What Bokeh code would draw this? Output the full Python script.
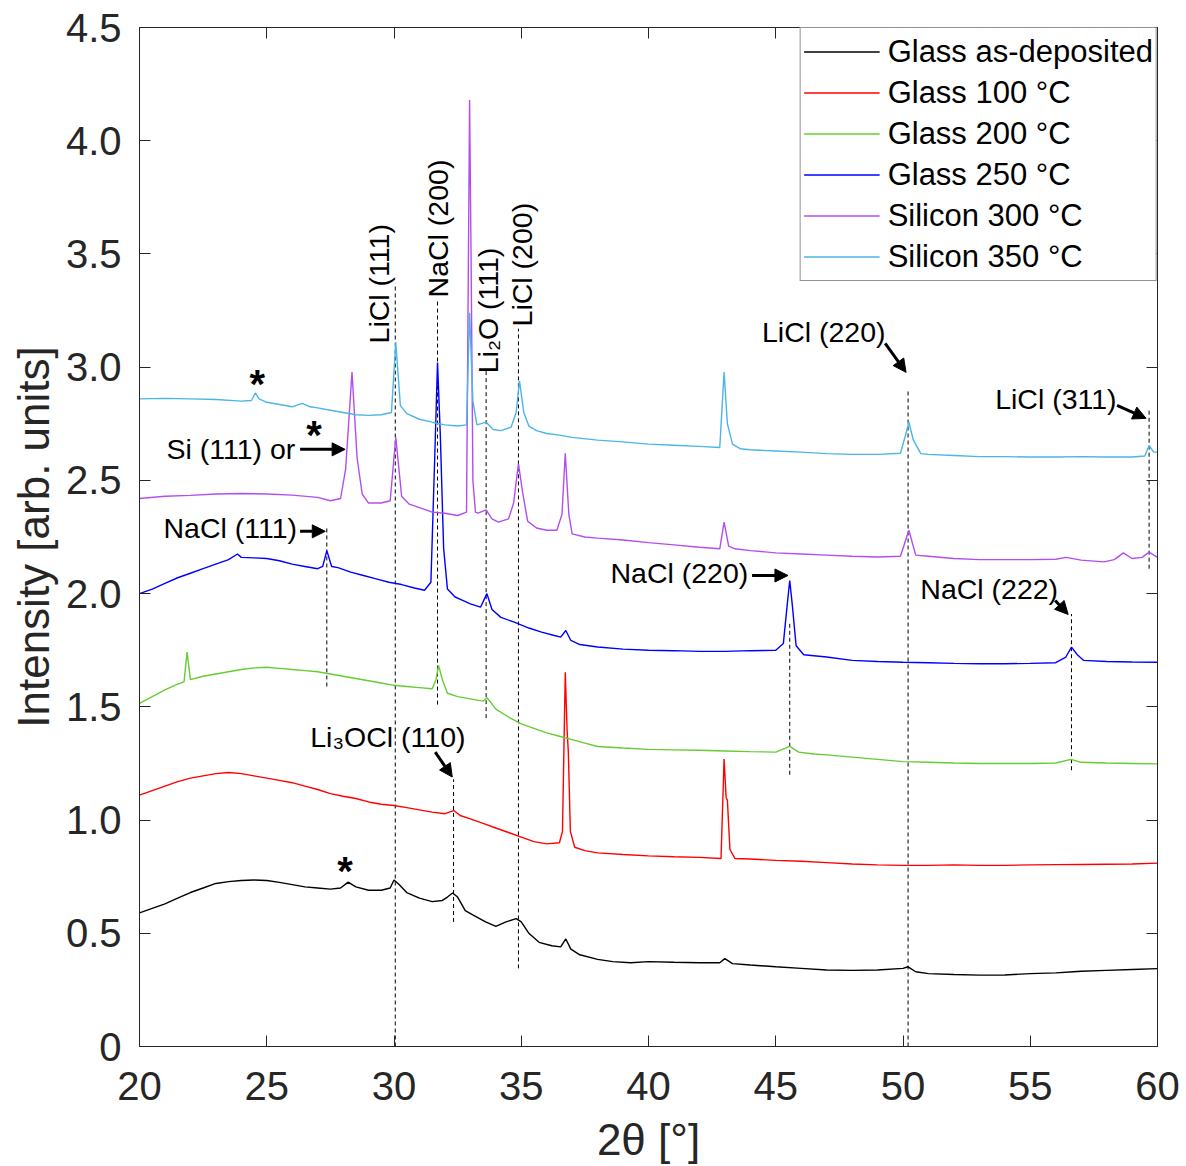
import math
from bokeh.plotting import figure
from bokeh.models import (Range1d, FixedTicker, LinearAxis, Arrow, NormalHead,
                          CustomJSTickFormatter, Legend, LegendItem)
from bokeh.core.properties import value
from bokeh.embed import file_html
from bokeh.resources import INLINE

FONT = "Liberation Sans"
AX = "#262626"

# ---------------- data ----------------
tt_black = [20.0, 20.5, 21.0, 21.5, 22.0, 22.5, 23.0, 23.5, 24.0, 24.5, 25.0, 25.5, 26.0, 26.5, 27.0,
            27.5, 27.9, 28.2, 28.5, 29.0, 29.5, 29.85, 30.0, 30.2, 30.5, 31.0, 31.5, 31.9, 32.1, 32.3,
            32.5, 32.8, 33.2, 33.6, 34.0, 34.4, 34.8, 35.0, 35.3, 35.7, 36.2, 36.55, 36.75, 36.95, 37.3,
            38.0, 38.6, 39.3, 40.0, 41.0, 42.0, 42.8, 43.0, 43.3, 44.0, 45.0, 46.0, 47.0, 48.0, 49.0,
            50.0, 50.2, 50.5, 51.0, 52.0, 53.0, 54.0, 55.0, 56.0, 56.7, 57.0, 58.0, 59.0, 60.0]
int_black = [0.59, 0.61, 0.63, 0.655, 0.68, 0.70, 0.72, 0.728, 0.733, 0.735, 0.733, 0.725, 0.715, 0.705, 0.70,
             0.695, 0.70, 0.726, 0.705, 0.69, 0.69, 0.70, 0.735, 0.715, 0.68, 0.655, 0.64, 0.645, 0.66, 0.678,
             0.66, 0.60, 0.575, 0.55, 0.53, 0.55, 0.565, 0.55, 0.50, 0.46, 0.445, 0.44, 0.475, 0.43, 0.405,
             0.385, 0.375, 0.37, 0.375, 0.372, 0.37, 0.37, 0.388, 0.366, 0.36, 0.352, 0.345, 0.338, 0.336, 0.338,
             0.345, 0.352, 0.33, 0.322, 0.318, 0.315, 0.316, 0.322, 0.325, 0.33, 0.332, 0.336, 0.34, 0.344]

tt_red = [20.0, 20.5, 21.0, 21.5, 22.0, 22.5, 23.0, 23.5, 24.0, 24.5, 25.0, 25.5, 26.0, 26.5, 27.0,
          27.5, 28.0, 28.5, 29.0, 29.5, 30.0, 30.5, 31.0, 31.5, 32.0, 32.35, 32.6, 33.0, 33.5, 34.0,
          34.5, 35.0, 35.5, 36.0, 36.5, 36.62, 36.73, 36.8, 36.85, 36.93, 37.1, 37.5, 38.0, 39.0, 40.0,
          41.0, 42.0, 42.85, 42.97, 43.05, 43.1, 43.2, 43.4, 44.0, 45.0, 46.0, 47.0, 48.0, 49.0, 50.0,
          51.0, 52.0, 53.0, 54.0, 55.0, 56.0, 57.0, 58.0, 59.0, 60.0]
int_red = [1.11, 1.13, 1.15, 1.17, 1.185, 1.195, 1.205, 1.21, 1.205, 1.195, 1.185, 1.175, 1.165, 1.15, 1.135,
           1.117, 1.105, 1.095, 1.08, 1.07, 1.064, 1.055, 1.045, 1.035, 1.028, 1.042, 1.02, 1.005, 0.985, 0.965,
           0.945, 0.925, 0.905, 0.895, 0.90, 0.95, 1.653, 1.40, 1.30, 0.95, 0.88, 0.865, 0.855, 0.848, 0.842,
           0.838, 0.835, 0.83, 1.27, 1.10, 1.087, 0.87, 0.83, 0.828, 0.822, 0.818, 0.812, 0.806, 0.802, 0.80,
           0.80, 0.802, 0.80, 0.80, 0.802, 0.803, 0.804, 0.805, 0.806, 0.81]

tt_green = [20.0, 20.5, 21.0, 21.5, 21.75, 21.87, 22.0, 22.5, 23.0, 23.5, 24.0, 24.5, 25.0, 25.5, 26.0,
            26.5, 27.0, 27.5, 28.0, 28.5, 29.0, 29.5, 30.0, 30.5, 31.0, 31.5, 31.65, 31.75, 31.9, 32.1,
            32.5, 33.0, 33.5, 33.65, 33.8, 34.0, 34.5, 35.0, 35.5, 36.0, 36.5, 37.0, 37.5, 38.0, 39.0,
            40.0, 41.0, 42.0, 43.0, 44.0, 45.0, 45.55, 45.9, 46.5, 47.0, 48.0, 49.0, 50.0, 51.0, 52.0,
            53.0, 54.0, 55.0, 56.0, 56.6, 57.0, 58.0, 59.0, 60.0]
int_green = [1.515, 1.545, 1.575, 1.60, 1.61, 1.742, 1.62, 1.635, 1.645, 1.655, 1.665, 1.672, 1.675, 1.67, 1.665,
             1.66, 1.655, 1.645, 1.635, 1.625, 1.615, 1.605, 1.595, 1.59, 1.585, 1.58, 1.62, 1.683, 1.62, 1.56,
             1.545, 1.535, 1.525, 1.54, 1.52, 1.49, 1.455, 1.425, 1.405, 1.385, 1.37, 1.355, 1.34, 1.325, 1.318,
             1.312, 1.31, 1.308, 1.305, 1.302, 1.30, 1.325, 1.30, 1.292, 1.288, 1.278, 1.268, 1.258, 1.255, 1.252,
             1.25, 1.25, 1.25, 1.252, 1.268, 1.255, 1.252, 1.25, 1.248]

tt_blue = [20.0, 20.5, 21.0, 21.5, 22.0, 22.5, 23.0, 23.5, 23.85, 24.0, 24.5, 25.0, 25.5, 26.0, 26.5,
           27.0, 27.2, 27.36, 27.55, 27.8, 28.3, 28.8, 29.3, 29.8, 30.3, 30.8, 31.2, 31.45, 31.6, 31.71,
           31.82, 31.95, 32.1, 32.4, 32.7, 33.0, 33.4, 33.65, 33.85, 34.2, 34.7, 35.3, 35.8, 36.3, 36.55,
           36.75, 36.95, 37.3, 38.0, 39.0, 40.0, 41.0, 42.0, 43.0, 44.0, 45.0, 45.3, 45.45, 45.55, 45.65,
           45.8, 46.1, 47.0, 48.0, 49.0, 50.0, 51.0, 52.0, 53.0, 54.0, 55.0, 56.0, 56.4, 56.62, 56.85,
           57.1, 58.0, 59.0, 60.0]
int_blue = [2.0, 2.02, 2.045, 2.07, 2.09, 2.11, 2.13, 2.15, 2.175, 2.16, 2.158, 2.155, 2.145, 2.13, 2.12,
            2.11, 2.12, 2.19, 2.12, 2.115, 2.095, 2.08, 2.065, 2.05, 2.04, 2.025, 2.015, 2.05, 2.6, 3.02,
            2.7, 2.2, 2.02, 1.985, 1.97, 1.955, 1.94, 2.0, 1.93, 1.895, 1.875, 1.848, 1.83, 1.815, 1.808,
            1.837, 1.793, 1.775, 1.764, 1.755, 1.75, 1.748, 1.745, 1.745, 1.748, 1.75, 1.78, 1.95, 2.058, 1.95,
            1.77, 1.73, 1.72, 1.705, 1.70, 1.697, 1.695, 1.692, 1.69, 1.69, 1.692, 1.695, 1.72, 1.764, 1.73,
            1.705, 1.70, 1.698, 1.697]

tt_purple = [20.0, 21.0, 22.0, 23.0, 24.0, 25.0, 26.0, 27.0, 27.5, 27.9, 28.1, 28.35, 28.55, 28.75, 29.0,
             29.5, 29.85, 30.07, 30.3, 30.6, 31.0, 31.5, 32.0, 32.5, 32.85, 32.97, 33.03, 33.1, 33.2, 33.3,
             33.62, 33.85, 34.1, 34.5, 34.7, 34.89, 35.05, 35.25, 35.6, 36.0, 36.4, 36.6, 36.73, 36.87, 37.0,
             37.5, 38.0, 39.0, 40.0, 41.0, 42.0, 42.8, 42.97, 43.15, 43.4, 44.0, 45.0, 46.0, 47.0, 48.0,
             49.0, 49.9, 50.23, 50.5, 51.0, 52.0, 53.0, 54.0, 55.0, 56.0, 56.4, 57.0, 57.9, 58.3, 58.66,
             59.0, 59.4, 59.67, 60.0]
int_purple = [2.42, 2.43, 2.434, 2.44, 2.442, 2.44, 2.435, 2.425, 2.41, 2.42, 2.55, 2.978, 2.60, 2.44, 2.40,
              2.40, 2.41, 2.69, 2.43, 2.395, 2.38, 2.36, 2.355, 2.345, 2.36, 4.18, 3.47, 2.5, 2.36, 2.355,
              2.37, 2.33, 2.316, 2.33, 2.40, 2.574, 2.45, 2.32, 2.29, 2.28, 2.28, 2.35, 2.62, 2.35, 2.264,
              2.25, 2.245, 2.237, 2.225, 2.215, 2.205, 2.198, 2.316, 2.21, 2.198, 2.19, 2.18, 2.175, 2.17, 2.165,
              2.162, 2.165, 2.28, 2.17, 2.165, 2.155, 2.15, 2.15, 2.15, 2.152, 2.16, 2.148, 2.14, 2.15, 2.18,
              2.155, 2.16, 2.183, 2.16]

tt_cyan = [20.0, 21.0, 22.0, 23.0, 24.0, 24.4, 24.55, 24.7, 25.0, 25.5, 26.0, 26.4, 26.7, 27.0, 27.5,
           28.0, 28.5, 29.0, 29.5, 29.9, 30.07, 30.25, 30.5, 31.0, 31.5, 32.0, 32.5, 32.85, 32.97, 33.1,
           33.26, 33.62, 33.9, 34.2, 34.6, 34.8, 34.93, 35.1, 35.3, 35.6, 36.0, 36.5, 37.0, 38.0, 39.0,
           40.0, 41.0, 42.0, 42.8, 42.97, 43.1, 43.3, 43.6, 44.0, 45.0, 46.0, 47.0, 48.0, 49.0, 49.9,
           50.1, 50.23, 50.4, 50.7, 51.0, 52.0, 53.0, 54.0, 55.0, 56.0, 57.0, 58.0, 59.0, 59.5, 59.67,
           59.85, 60.0]
int_cyan = [2.86, 2.862, 2.86, 2.857, 2.85, 2.853, 2.886, 2.86, 2.845, 2.835, 2.825, 2.84, 2.825, 2.82, 2.81,
            2.80, 2.79, 2.787, 2.79, 2.80, 3.11, 2.83, 2.795, 2.77, 2.757, 2.745, 2.74, 2.745, 3.24, 2.85,
            2.745, 2.757, 2.725, 2.72, 2.735, 2.80, 2.94, 2.80, 2.74, 2.72, 2.707, 2.70, 2.69, 2.678, 2.67,
            2.66, 2.655, 2.65, 2.645, 2.978, 2.75, 2.66, 2.64, 2.635, 2.63, 2.625, 2.618, 2.615, 2.615, 2.62,
            2.70, 2.758, 2.68, 2.618, 2.615, 2.61, 2.605, 2.605, 2.603, 2.603, 2.605, 2.603, 2.603, 2.608, 2.654,
            2.625, 2.625]

series_names = ["Glass as-deposited", "Glass 100 \u00b0C", "Glass 200 \u00b0C",
                "Glass 250 \u00b0C", "Silicon 300 \u00b0C", "Silicon 350 \u00b0C"]
series_x = [tt_black, tt_red, tt_green, tt_blue, tt_purple, tt_cyan]
series_y = [int_black, int_red, int_green, int_blue, int_purple, int_cyan]
series_colors = ["#000000", "#ff0000", "#66cc33", "#0000ff", "#b24ef0", "#4cb5e6"]

# reflection marker lines: position, lower and upper end
ref_x = [27.36, 30.05, 31.71, 33.62, 34.89, 32.34, 45.55, 50.20, 56.62, 59.67]
ref_y0 = [1.59, 0.0, 1.51, 1.45, 0.345, 0.55, 1.20, 0.0, 1.22, 2.11]
ref_y1 = [2.29, 3.37, 3.30, 2.99, 3.17, 1.18, 1.87, 2.90, 1.91, 2.81]

# vertical labels
vlab_text = ["LiCl (111)", "NaCl (200)", "Li\u2082O (111)", "LiCl (200)"]
vlab_x = [29.42, 31.74, 33.70, 35.04]
vlab_y = [3.105, 3.308, 2.973, 3.18]

# horizontal labels
hlab_text = ["Si (111) or", "NaCl (111)", "NaCl (220)", "NaCl (222)", "LiCl (220)", "LiCl (311)",
             "Li\u2083OCl (110)"]
hlab_x = [26.12, 26.19, 43.92, 50.68, 44.46, 53.62, 26.71]
hlab_y = [2.64, 2.29, 2.09, 2.02, 3.154, 2.858, 1.365]
hlab_align = ["right", "right", "right", "left", "left", "left", "left"]

star_x = [24.63, 26.86, 28.08]
star_y = [2.925, 2.70, 0.775]

arrow_x0 = [26.31, 26.31, 44.07, 55.98, 49.30, 58.41, 31.62]
arrow_y0 = [2.637, 2.275, 2.08, 1.97, 3.105, 2.831, 1.30]
arrow_x1 = [28.08, 27.30, 45.48, 56.49, 50.12, 59.55, 32.29]
arrow_y1 = [2.637, 2.275, 2.08, 1.908, 2.977, 2.774, 1.19]

x_ticks = [20, 25, 30, 35, 40, 45, 50, 55, 60]
y_ticks = [0, 0.5, 1.0, 1.5, 2.0, 2.5, 3.0, 3.5, 4.0, 4.5]

# ---------------- figure ----------------
p = figure(width=1186, height=1166, output_backend="svg", toolbar_location=None,
           x_range=Range1d(20, 60), y_range=Range1d(0, 4.5),
           min_border_left=139, min_border_right=29, min_border_top=27, min_border_bottom=120)
p.background_fill_color = "white"
p.border_fill_color = "white"
p.outline_line_color = AX
p.grid.visible = False

for ax in p.xaxis + p.yaxis:
    ax.axis_line_color = AX
    ax.major_tick_line_color = AX
    ax.major_tick_in = 11
    ax.major_tick_out = 0
    ax.minor_tick_line_color = None
    ax.major_label_text_font = FONT
    ax.major_label_text_font_size = "40px"
    ax.major_label_text_color = AX
    ax.axis_label_text_font = FONT
    ax.axis_label_text_font_size = "44px"
    ax.axis_label_text_font_style = "normal"
    ax.axis_label_text_color = AX

p.xaxis.ticker = FixedTicker(ticks=x_ticks)
p.yaxis.ticker = FixedTicker(ticks=y_ticks)
p.yaxis.formatter = CustomJSTickFormatter(code="return tick == 0 ? '0' : tick.toFixed(1);")
p.xaxis.axis_label = "2\u03b8 [\u00b0]"
p.yaxis.axis_label = "Intensity [arb. units]"
p.xaxis.major_label_standoff = 25
p.yaxis.major_label_standoff = 18
p.xaxis.axis_label_standoff = 12
p.yaxis.axis_label_standoff = 5

for loc, tk in (("above", x_ticks), ("right", y_ticks)):
    a = LinearAxis(ticker=FixedTicker(ticks=tk), major_tick_in=11, major_tick_out=0,
                   minor_tick_line_color=None, axis_line_color=AX, major_tick_line_color=AX,
                   major_label_text_font_size="1px", major_label_text_color=None,
                   major_label_standoff=0)
    p.add_layout(a, loc)

# reference dashed lines
p.segment(x0=ref_x, y0=ref_y0, x1=ref_x, y1=ref_y1, line_color="black",
          line_width=1, line_dash="4 3")

items = []
for name, xs, ys, c in zip(series_names, series_x, series_y, series_colors):
    r = p.line(xs, ys, line_color=c, line_width=1.4)
    items.append(LegendItem(label=name, renderers=[r]))

# labels
p.text(x=vlab_x, y=vlab_y, text=vlab_text, angle=math.pi / 2, text_align="left",
       text_baseline="middle", text_font=value(FONT), text_font_size="28.5px", text_color="black")
p.text(x=hlab_x, y=hlab_y, text=hlab_text, text_align=hlab_align, text_baseline="middle",
       text_font=value(FONT), text_font_size="28.5px", text_color="black")
p.text(x=star_x, y=star_y, text=["*"] * len(star_x), text_align="center", text_baseline="middle",
       text_font=value(FONT), text_font_size="40px", text_font_style="bold", text_color="black")

for x0, y0, x1, y1 in zip(arrow_x0, arrow_y0, arrow_x1, arrow_y1):
    p.add_layout(Arrow(end=NormalHead(size=13, fill_color="black", line_color="black"),
                       x_start=x0, y_start=y0, x_end=x1, y_end=y1,
                       line_color="black", line_width=3))

legend = Legend(items=items, location="top_right", margin=0, padding=3, spacing=0,
                glyph_width=76, glyph_height=41, label_standoff=8,
                label_text_font=FONT, label_text_font_size="31px", label_text_color="black",
                border_line_color=AX, border_line_width=1, background_fill_alpha=1)
p.add_layout(legend)

open("out.html", "w").write(file_html(p, INLINE))
